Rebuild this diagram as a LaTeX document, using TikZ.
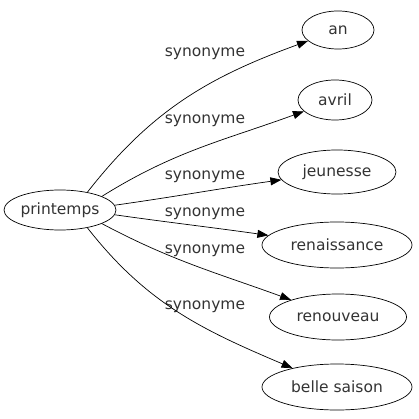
\documentclass[tikz,border=0pt]{standalone}
\usepackage{fontspec}
\setmainfont{DejaVu Sans}
\usetikzlibrary{shapes.geometric,arrows.meta}
\begin{document}
\begin{tikzpicture}[x=1pt,y=-1pt,
  word/.style={draw,ellipse,inner sep=0pt,line width=0.7pt,text=black!80,font=\fontsize{15.5}{18}\selectfont},
  lbl/.style={inner sep=0pt,text=black!80,font=\fontsize{15.5}{18}\selectfont},
  syn/.style={line width=0.7pt,-{Triangle[length=11pt,width=8pt]}}]
\useasboundingbox (0,0) rectangle (418,419);
\node[word,minimum width=112,minimum height=40] (p) at (60,210) {printemps};
\node[word,minimum width=72,minimum height=38] (an) at (338,30) {an};
\node[word,minimum width=74,minimum height=40] (av) at (335,100) {avril};
\node[word,minimum width=118,minimum height=44] (je) at (337,172) {jeunesse};
\node[word,minimum width=150,minimum height=46] (re) at (337,245) {renaissance};
\node[word,minimum width=137,minimum height=46] (rn) at (338,317) {renouveau};
\node[word,minimum width=150,minimum height=46] (bs) at (337,387) {belle saison};
\node[lbl] (l1) at (205,54) {synonyme};
\node[lbl] (l2) at (205,121) {synonyme};
\node[lbl] (l3) at (205,177) {synonyme};
\node[lbl] (l4) at (205,214) {synonyme};
\node[lbl] (l5) at (205,251) {synonyme};
\node[lbl] (l6) at (205,307) {synonyme};
\draw[syn] (p.33) to[out=52,in=200] (an);
\draw[syn] (p.18) to[out=32,in=200] (av);
\draw[syn] (p.5) to[out=8,in=188] (je);
\draw[syn] (p.-5) to[out=-8,in=172] (re);
\draw[syn] (p.-18) to[out=-28,in=160] (rn);
\draw[syn] (p.-33) to[out=-52,in=157] (bs);
\end{tikzpicture}
\end{document}
